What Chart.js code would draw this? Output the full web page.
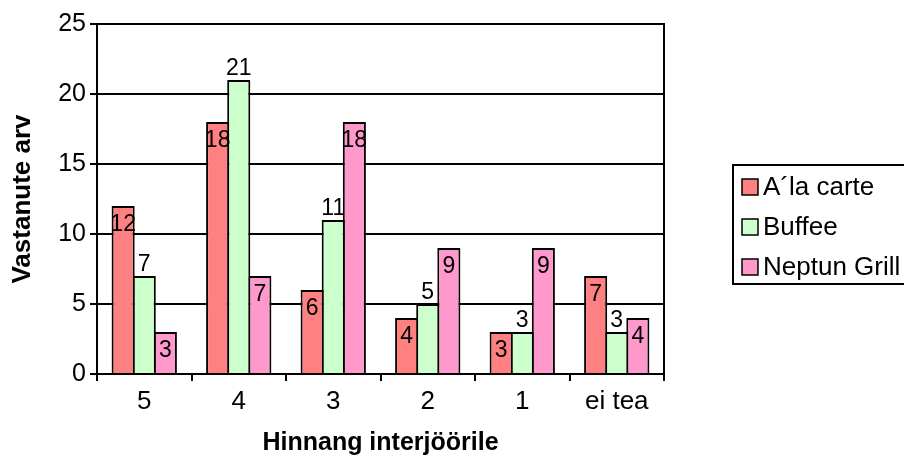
<!DOCTYPE html>
<html>
<head>
<meta charset="utf-8">
<script src="https://cdn.jsdelivr.net/npm/chart.js@4"></script>
<style>
  html, body { margin: 0; padding: 0; background: #fff; }
  #wrap { width: 904px; height: 459px; }
</style>
</head>
<body>
<div id="wrap"><canvas id="c" width="904" height="459"></canvas></div>
<script>
// Hinnangud interjöörile, vastajate arv restorani kaupa
const categories = ['5', '4', '3', '2', '1', 'ei tea'];
const seriesNames = ['A\u00B4la carte', 'Buffee', 'Neptun Grill'];
const alaCarte = [12, 18, 6, 4, 3, 7];
const buffee = [7, 21, 11, 5, 3, 3];
const neptunGrill = [3, 7, 18, 9, 9, 4];
const yTicks = [0, 5, 10, 15, 20, 25];

const FONT = "'Liberation Sans', Arial, sans-serif";
const colors = ['#FF8080', '#CCFFCC', '#FF99CC'];
// vertical offset of each series' value label from the bar top
const labelOffsets = [19, -11, 19];

const valueLabels = {
  id: 'valueLabels',
  afterDatasetsDraw(chart) {
    const ctx = chart.ctx;
    ctx.save();
    ctx.font = '23px ' + FONT;
    ctx.fillStyle = '#000';
    ctx.textAlign = 'center';
    ctx.textBaseline = 'middle';
    chart.data.datasets.forEach((ds, i) => {
      const meta = chart.getDatasetMeta(i);
      meta.data.forEach((bar, j) => {
        ctx.fillText(String(ds.data[j]), bar.x, bar.y + labelOffsets[i]);
      });
    });
    ctx.restore();
  }
};

const frameAndLegend = {
  id: 'frameAndLegend',
  afterDraw(chart) {
    const ctx = chart.ctx;
    const a = chart.chartArea;
    ctx.save();
    ctx.strokeStyle = '#000';
    ctx.lineWidth = 2;
    // right edge of the plot frame
    ctx.beginPath();
    ctx.moveTo(a.right, a.top - 1);
    ctx.lineTo(a.right, a.bottom + 1);
    ctx.stroke();

    // legend frame
    const boxLeft = 733, boxTop = 165, boxBottom = 284;
    ctx.strokeRect(boxLeft, boxTop, chart.width + 20 - boxLeft, boxBottom - boxTop);

    ctx.font = '26px ' + FONT;
    ctx.textAlign = 'left';
    ctx.textBaseline = 'middle';
    chart.data.datasets.forEach((ds, i) => {
      const y = 187 + i * 40;
      ctx.fillStyle = ds.backgroundColor;
      ctx.fillRect(742, y - 8, 16, 16);
      ctx.lineWidth = 1.5;
      ctx.strokeStyle = '#000';
      ctx.strokeRect(742, y - 8, 16, 16);
      ctx.fillStyle = '#000';
      ctx.fillText(ds.label, 763, y + 1);
    });
    ctx.restore();
  }
};

const seriesValues = [alaCarte, buffee, neptunGrill];

new Chart(document.getElementById('c'), {
  type: 'bar',
  data: {
    labels: categories,
    datasets: seriesNames.map((name, i) => ({
      label: name,
      data: seriesValues[i],
      backgroundColor: colors[i],
      borderColor: '#000',
      borderWidth: 2,
      borderSkipped: 'start',
      categoryPercentage: 0.67,
      barPercentage: 1.095
    }))
  },
  options: {
    responsive: false,
    animation: false,
    devicePixelRatio: 1,
    layout: { padding: { top: 24, right: 240, bottom: 0, left: 0 } },
    plugins: {
      legend: { display: false },
      tooltip: { enabled: false }
    },
    scales: {
      x: {
        offset: true,
        grid: { offset: true, drawOnChartArea: false, drawTicks: true, tickLength: 7, color: '#000', lineWidth: 2 },
        border: { color: '#000', width: 2 },
        ticks: { color: '#000', font: { family: FONT, size: 26 }, padding: 5, maxRotation: 0 },
        title: {
          display: true,
          text: 'Hinnang interjöörile',
          color: '#000',
          font: { family: FONT, size: 25, weight: 'bold', lineHeight: 1 },
          padding: { top: 0, bottom: 3 }
        },
        afterFit(scale) { scale.height = 85; }
      },
      y: {
        min: 0,
        max: 25,
        afterBuildTicks(scale) { scale.ticks = yTicks.map(v => ({ value: v })); },
        grid: { color: '#000', lineWidth: 2, drawTicks: true, tickLength: 7 },
        border: { color: '#000', width: 2 },
        ticks: { color: '#000', font: { family: FONT, size: 25 }, padding: 4 },
        title: {
          display: true,
          text: 'Vastanute arv',
          color: '#000',
          font: { family: FONT, size: 26, weight: 'bold', lineHeight: 1 },
          padding: { top: 10, bottom: 0 }
        },
        afterFit(scale) { scale.width = 97; }
      }
    }
  },
  plugins: [valueLabels, frameAndLegend]
});
</script>
</body>
</html>
